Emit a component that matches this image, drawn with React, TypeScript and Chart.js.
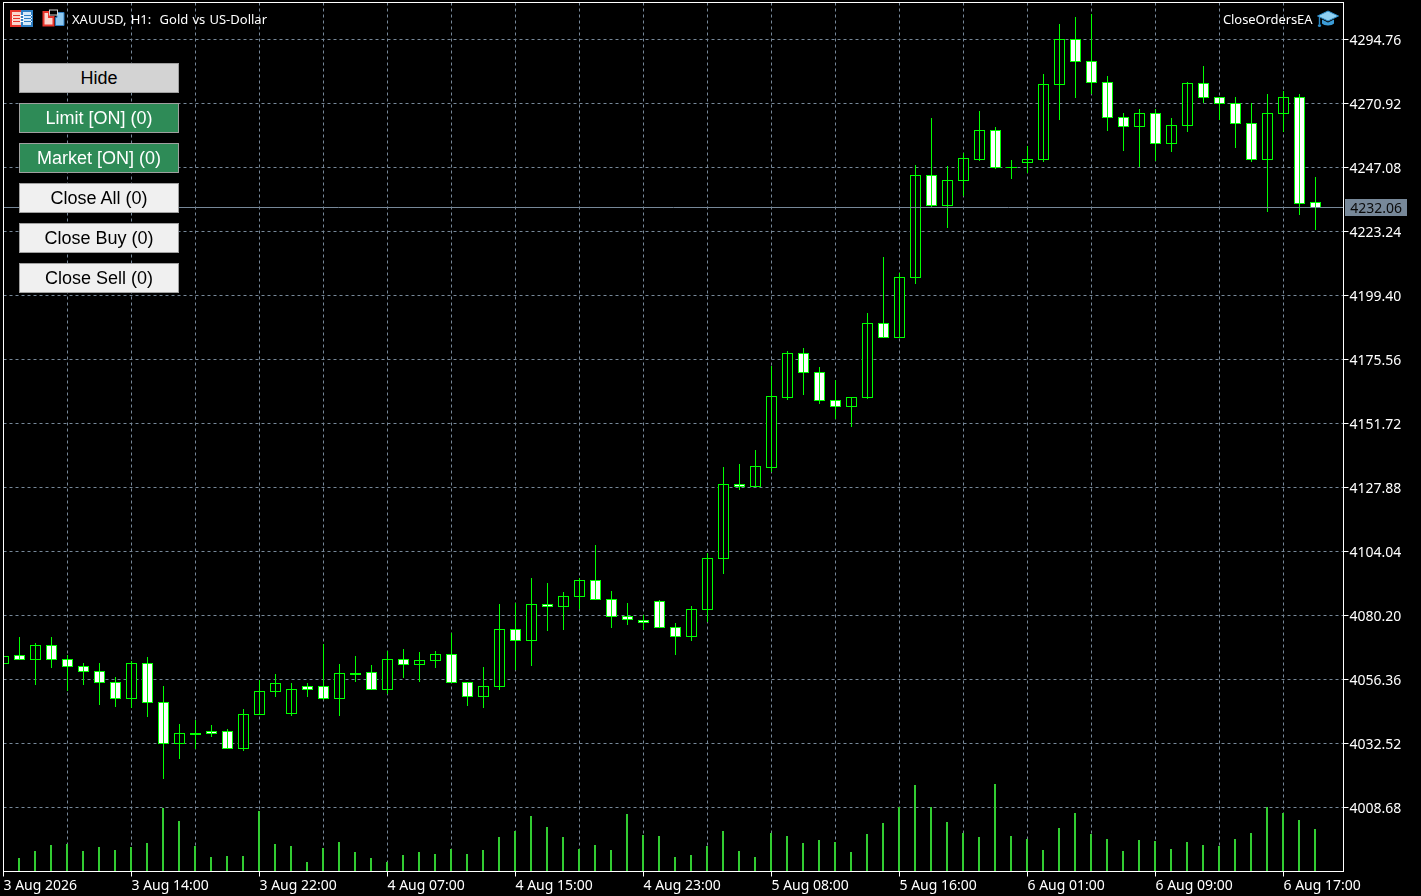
import React, { useEffect, useRef } from "react";
import { Chart, registerables } from "chart.js";

Chart.register(...registerables);

const opens = [
  4062.32, 4065.30, 4063.81, 4069.03, 4063.81, 4061.20, 4059.34, 4055.24, 4049.28, 4062.32,
  4047.79, 4032.52, 4035.87, 4036.99, 4036.99, 4030.66, 4043.32, 4051.89, 4043.70, 4053.75,
  4053.75, 4049.28, 4058.22, 4058.97, 4052.64, 4063.81, 4061.95, 4063.44, 4065.67, 4055.24,
  4050.03, 4053.75, 4074.99, 4070.89, 4084.30, 4083.55, 4087.28, 4093.24, 4086.16, 4079.83,
  4078.34, 4085.42, 4075.73, 4072.38, 4082.44, 4101.43, 4129.00, 4128.25, 4135.33, 4161.41,
  4177.80, 4170.72, 4160.29, 4158.05, 4161.41, 4188.97, 4183.76, 4206.11, 4244.10, 4232.93,
  4242.24, 4250.06, 4260.86, 4247.08, 4248.94, 4250.06, 4278.00, 4294.76, 4286.57, 4278.74,
  4265.71, 4262.35, 4267.20, 4256.02, 4262.73, 4278.37, 4273.16, 4270.92, 4263.47, 4250.06,
  4267.20, 4273.16, 4234.04,
];
const highs = [
  4064.93, 4072.01, 4069.77, 4072.01, 4065.30, 4062.32, 4062.32, 4057.11, 4063.07, 4064.56,
  4053.75, 4039.60, 4041.09, 4039.22, 4037.74, 4045.19, 4055.99, 4058.22, 4054.87, 4054.87,
  4069.40, 4061.95, 4064.93, 4061.58, 4066.79, 4067.54, 4066.42, 4066.79, 4073.50, 4055.24,
  4060.83, 4084.30, 4084.67, 4093.98, 4092.12, 4088.77, 4093.98, 4106.28, 4089.14, 4084.67,
  4080.20, 4085.79, 4077.22, 4083.55, 4103.30, 4135.33, 4136.45, 4141.66, 4172.95, 4178.54,
  4179.66, 4172.58, 4167.74, 4161.41, 4192.70, 4213.56, 4207.60, 4247.83, 4265.33, 4247.45,
  4252.30, 4267.94, 4261.98, 4249.69, 4254.90, 4281.72, 4300.35, 4302.96, 4304.07, 4280.98,
  4267.20, 4268.69, 4268.69, 4265.33, 4278.74, 4284.70, 4273.16, 4273.16, 4270.92, 4274.27,
  4275.39, 4274.27, 4243.36,
];
const lows = [
  4062.32, 4063.81, 4054.13, 4060.46, 4051.89, 4054.13, 4046.68, 4045.93, 4045.56, 4042.21,
  4019.11, 4026.56, 4030.29, 4034.75, 4030.29, 4029.54, 4043.32, 4049.66, 4042.58, 4049.66,
  4048.54, 4042.58, 4055.24, 4052.26, 4050.77, 4056.73, 4055.24, 4060.46, 4055.24, 4046.30,
  4045.56, 4052.26, 4059.71, 4061.20, 4074.24, 4074.61, 4082.44, 4086.16, 4075.36, 4076.48,
  4074.61, 4075.73, 4065.30, 4070.52, 4077.59, 4095.47, 4126.76, 4128.25, 4133.47, 4160.29,
  4162.15, 4158.80, 4153.21, 4150.23, 4160.66, 4183.38, 4183.76, 4203.50, 4232.18, 4224.36,
  4236.28, 4249.32, 4246.34, 4242.61, 4244.85, 4248.94, 4264.59, 4272.78, 4274.27, 4260.49,
  4253.04, 4247.08, 4249.32, 4252.67, 4260.12, 4270.92, 4264.59, 4254.16, 4248.94, 4230.32,
  4260.12, 4229.20, 4223.61,
];
const closes = [
  4064.93, 4063.81, 4069.03, 4063.81, 4061.20, 4059.34, 4055.24, 4049.28, 4062.32, 4047.79,
  4032.52, 4036.24, 4036.24, 4036.24, 4030.66, 4043.32, 4051.89, 4054.87, 4052.64, 4052.64,
  4049.28, 4058.60, 4058.60, 4052.64, 4063.81, 4061.95, 4063.44, 4065.67, 4055.24, 4050.03,
  4053.75, 4074.99, 4070.89, 4084.30, 4083.55, 4087.28, 4093.24, 4086.16, 4079.83, 4078.71,
  4077.59, 4075.73, 4072.38, 4082.44, 4101.43, 4129.00, 4128.25, 4135.70, 4161.78, 4177.80,
  4170.72, 4160.29, 4158.05, 4161.41, 4188.97, 4183.76, 4206.11, 4244.10, 4232.93, 4242.24,
  4250.43, 4260.86, 4247.08, 4247.08, 4250.06, 4278.00, 4294.76, 4286.57, 4278.74, 4265.71,
  4262.35, 4267.20, 4256.02, 4262.73, 4278.37, 4273.16, 4270.92, 4263.47, 4250.06, 4267.20,
  4273.16, 4233.67, 4232.06,
];
const volumes = [
  2000, 1300, 2000, 2600, 2700, 2000, 2400, 2100, 2400, 2800,
  6300, 5000, 2500, 1400, 1500, 1500, 6000, 2700, 2500, 900,
  2300, 2900, 1900, 1300, 900, 1600, 1900, 1700, 2200, 1700,
  2100, 3400, 4000, 5500, 4400, 3400, 2200, 2600, 2100, 5700,
  3600, 3500, 1400, 1600, 2500, 4000, 2000, 1400, 3800, 3500,
  2800, 3100, 2900, 1900, 3700, 4800, 6400, 8600, 6400, 4900,
  3800, 3400, 8700, 3500, 3200, 2100, 4300, 5800, 3700, 3200,
  2000, 3100, 3000, 2200, 2900, 2600, 2500, 3200, 3800, 6400,
  5800, 5100, 4200,
];
const timeLabels = [
  "3 Aug 2026", "3 Aug 14:00", "3 Aug 22:00", "4 Aug 07:00", "4 Aug 15:00", "4 Aug 23:00",
  "5 Aug 08:00", "5 Aug 16:00", "6 Aug 01:00", "6 Aug 09:00", "6 Aug 17:00",
];
const priceTicks = [
  4294.76, 4270.92, 4247.08, 4223.24, 4199.4, 4175.56, 4151.72, 4127.88, 4104.04, 4080.2,
  4056.36, 4032.52, 4008.68,
];
const currentPrice = 4232.06;
const buttons = [
  { label: "Hide", bg: "#d3d3d3", fg: "#000" },
  { label: "Limit [ON] (0)", bg: "#2e8b57", fg: "#fff" },
  { label: "Market [ON] (0)", bg: "#2e8b57", fg: "#fff" },
  { label: "Close All (0)", bg: "#f0f0f0", fg: "#000" },
  { label: "Close Buy (0)", bg: "#f0f0f0", fg: "#000" },
  { label: "Close Sell (0)", bg: "#f0f0f0", fg: "#000" },
];

const FONT = "'Noto Sans'";
const GRID = "#778899";
const LIME = "#00ff00";
const VOL = "#32cd32";

const snapPlugin = {
  id: "snap",
  afterDatasetsUpdate(chart: any) {
    chart.data.datasets.forEach((ds: any, di: number) => {
      const meta = chart.getDatasetMeta(di);
      meta.data.forEach((el: any) => {
        const a = Math.min(el.y, el.base);
        const b = Math.max(el.y, el.base);
        el.inflateAmount = 0;
        el.x = Math.floor(el.x) + 0.5;
        if (ds.yAxisID === "v") {
          el.x -= 0.5;
          el.y = Math.floor(a);
          el.base = Math.floor(b);
        } else if (ds.label === "Wick") {
          el.y = Math.floor(a);
          el.base = Math.floor(b);
        } else {
          el.y = Math.floor(a);
          el.base = Math.floor(b) + 1;
        }
      });
    });
  },
  afterUpdate(chart: any) {
    chart.scales.y.getLabelItems().forEach((it: any) => {
      it.options.translation = [it.options.translation[0], it.options.translation[1] + 2];
    });
    chart.scales.x.getLabelItems().forEach((it: any) => {
      it.options.translation = [it.options.translation[0], it.options.translation[1] + 1];
    });
  },
};

const framePlugin = {
  id: "frame",
  afterDatasetsDraw(chart: any) {
    const { ctx, chartArea: a, scales } = chart;
    const y = Math.floor(scales.y.getPixelForValue(currentPrice)) + 0.5;
    ctx.save();
    ctx.strokeStyle = GRID;
    ctx.lineWidth = 1;
    ctx.beginPath();
    ctx.moveTo(a.left, y);
    ctx.lineTo(a.right, y);
    ctx.stroke();
    ctx.strokeStyle = "#ffffff";
    ctx.strokeRect(a.left, a.top, a.right - a.left, a.bottom - a.top);
    ctx.fillStyle = GRID;
    ctx.fillRect(a.right + 1.5, y - 8.5, 62, 17);
    ctx.fillStyle = "#0a0a0a";
    ctx.font = `14px ${FONT}`;
    ctx.textAlign = "left";
    ctx.textBaseline = "middle";
    ctx.fillText(currentPrice.toFixed(2), a.right + 6.7, y + 1.5);
    ctx.restore();
  },
};

function LeftIcon() {
  return (
    <svg width="24" height="17" style={{ position: "absolute", left: 10, top: 10 }}>
      <rect x="1" y="1" width="11" height="15" fill="#fbd5cd" stroke="#e8352c" strokeWidth="2" />
      <rect x="12" y="1" width="10" height="15" fill="#d6eafa" stroke="#2f7fc4" strokeWidth="2" />
      <path d="M2 5.5H22M2 8.5H22M2 11.5H22" stroke="#ffffff" strokeWidth="1" />
      <path d="M3 5.5H10M3 8.5H10M3 11.5H10" stroke="#e8352c" strokeWidth="1" />
      <path d="M14 5.5H21M14 8.5H21M14 11.5H21" stroke="#2f7fc4" strokeWidth="1" />
    </svg>
  );
}

function SecondIcon() {
  return (
    <svg width="24" height="18" style={{ position: "absolute", left: 42, top: 9 }}>
      <path d="M1.5 3H7V8H11.5V16.5H1.5Z" fill="#fbd5cd" stroke="#e8352c" strokeWidth="2" />
      <path d="M15 3.5H22V16.5H13.5V8.5H15Z" fill="#8fc9f0" stroke="#2f7fc4" strokeWidth="1" />
      <rect x="7.5" y="1" width="8" height="5" fill="#000000" stroke="#d0d0d0" strokeWidth="1" />
    </svg>
  );
}

function CapIcon() {
  return (
    <svg width="22" height="18" style={{ position: "absolute", left: 1317, top: 10 }}>
      <path d="M11 1L21.5 6L11 11L0.5 6Z" fill="#8fd0f2" stroke="#2b8ac6" strokeWidth="1" />
      <path d="M5 9.5V13.5C7 16 15 16 17 13.5V9.5L11 12.5Z" fill="#3b9bd6" />
      <path d="M2.5 7V14" stroke="#2b8ac6" strokeWidth="1.4" />
      <circle cx="2.5" cy="15.5" r="1.6" fill="#2b8ac6" />
    </svg>
  );
}

export default function App() {
  const ref = useRef<HTMLCanvasElement | null>(null);

  useEffect(() => {
    document.body.style.margin = "0";
    document.body.style.background = "#000";
    const idx = opens.map((_, i) => i);
    const chart = new Chart(ref.current as HTMLCanvasElement, {
      type: "bar",
      data: {
        datasets: [
          {
            label: "Volume",
            yAxisID: "v",
            data: idx.map((i) => ({ x: i, y: volumes[i] })),
            backgroundColor: VOL,
            barThickness: 2,
            borderWidth: 0,
            inflateAmount: 0,
          },
          {
            label: "Wick",
            yAxisID: "y",
            data: idx.map((i) => ({ x: i, y: [lows[i], highs[i]] })),
            backgroundColor: LIME,
            barThickness: 1,
            borderWidth: 0,
            inflateAmount: 0,
          },
          {
            label: "Body",
            yAxisID: "y",
            data: idx.map((i) => ({ x: i, y: [opens[i], closes[i]] })),
            backgroundColor: idx.map((i) => (closes[i] < opens[i] ? "#ffffff" : "#000000")),
            borderColor: LIME,
            borderWidth: 1,
            borderSkipped: false,
            barThickness: 11,
            inflateAmount: 0,
          },
        ] as any,
      },
      options: {
        responsive: false,
        animation: false,
        events: [],
        devicePixelRatio: 1,
        layout: { padding: { left: 3.5, top: 2.5, right: 0, bottom: 0 } },
        plugins: { legend: { display: false }, tooltip: { enabled: false }, title: { display: false } },
        datasets: { bar: { grouped: false, inflateAmount: 0 } },
        scales: {
          x: {
            type: "linear",
            min: 0,
            max: 83.75,
            offset: false,
            position: "bottom",
            afterBuildTicks: (s: any) => {
              s.ticks = [];
              for (let v = 0; v <= 83; v += 4) s.ticks.push({ value: v });
            },
            afterFit: (s: any) => {
              s.height = 24.5;
              s.paddingLeft = s.paddingRight = s.paddingTop = s.paddingBottom = 0;
            },
            grid: {
              offset: false,
              color: GRID,
              lineWidth: 1,
              tickLength: 5,
              tickColor: (c: any) => (c.index % 2 === 0 ? "#ffffff" : "rgba(0,0,0,0)"),
            },
            border: { display: false, dash: [3, 3] },
            ticks: {
              autoSkip: false,
              maxRotation: 0,
              align: "start",
              padding: 0,
              color: "#ffffff",
              font: { family: FONT, size: 14 },
              callback: (v: any) => {
                const n = Number(v);
                return n % 8 === 0 ? timeLabels[n / 8] : "";
              },
            },
          },
          y: {
            type: "linear",
            position: "right",
            min: 3984.84,
            max: 4308.5425,
            afterBuildTicks: (s: any) => {
              s.ticks = priceTicks.map((value) => ({ value }));
            },
            afterFit: (s: any) => {
              s.width = 77.5;
              s.paddingLeft = s.paddingRight = s.paddingTop = s.paddingBottom = 0;
            },
            grid: { color: GRID, lineWidth: 1, tickLength: 5, tickColor: "#ffffff" },
            border: { display: false, dash: [3, 3] },
            ticks: {
              autoSkip: false,
              padding: 1,
              color: "#ffffff",
              font: { family: FONT, size: 14 },
              callback: (v: any) => Number(v).toFixed(2),
            },
          },
          v: { type: "linear", display: false, min: 0, max: 86900, grid: { display: false } },
        },
      } as any,
      plugins: [snapPlugin, framePlugin] as any,
    });
    return () => chart.destroy();
  }, []);

  return (
    <div style={{ position: "fixed", left: 0, top: 0, width: 1421, height: 896, background: "#000", overflow: "hidden" }}>
      <canvas ref={ref} width={1421} height={896} style={{ display: "block", width: 1421, height: 896 }} />
      <LeftIcon />
      <SecondIcon />
      <div
        style={{
          position: "absolute", left: 72, top: 9, height: 20, color: "#fff",
          font: `13px/20px ${FONT}`, whiteSpace: "pre", wordSpacing: "0.8px",
        }}
      >
        {"XAUUSD, H1:  Gold vs US-Dollar"}
      </div>
      <div
        style={{
          position: "absolute", left: 1223, top: 9, height: 20, color: "#fff",
          font: `13px/20px ${FONT}`, whiteSpace: "pre", letterSpacing: "-0.1px",
        }}
      >
        CloseOrdersEA
      </div>
      <CapIcon />
      {buttons.map((b, i) => (
        <div
          key={b.label}
          style={{
            position: "absolute", left: 19, top: 63 + 40 * i, width: 160, height: 30, boxSizing: "border-box",
            background: b.bg, color: b.fg, border: "1px solid #a0a0a0",
            font: "18px/28px 'Liberation Sans'", textAlign: "center", whiteSpace: "pre",
          }}
        >
          {b.label}
        </div>
      ))}
    </div>
  );
}
